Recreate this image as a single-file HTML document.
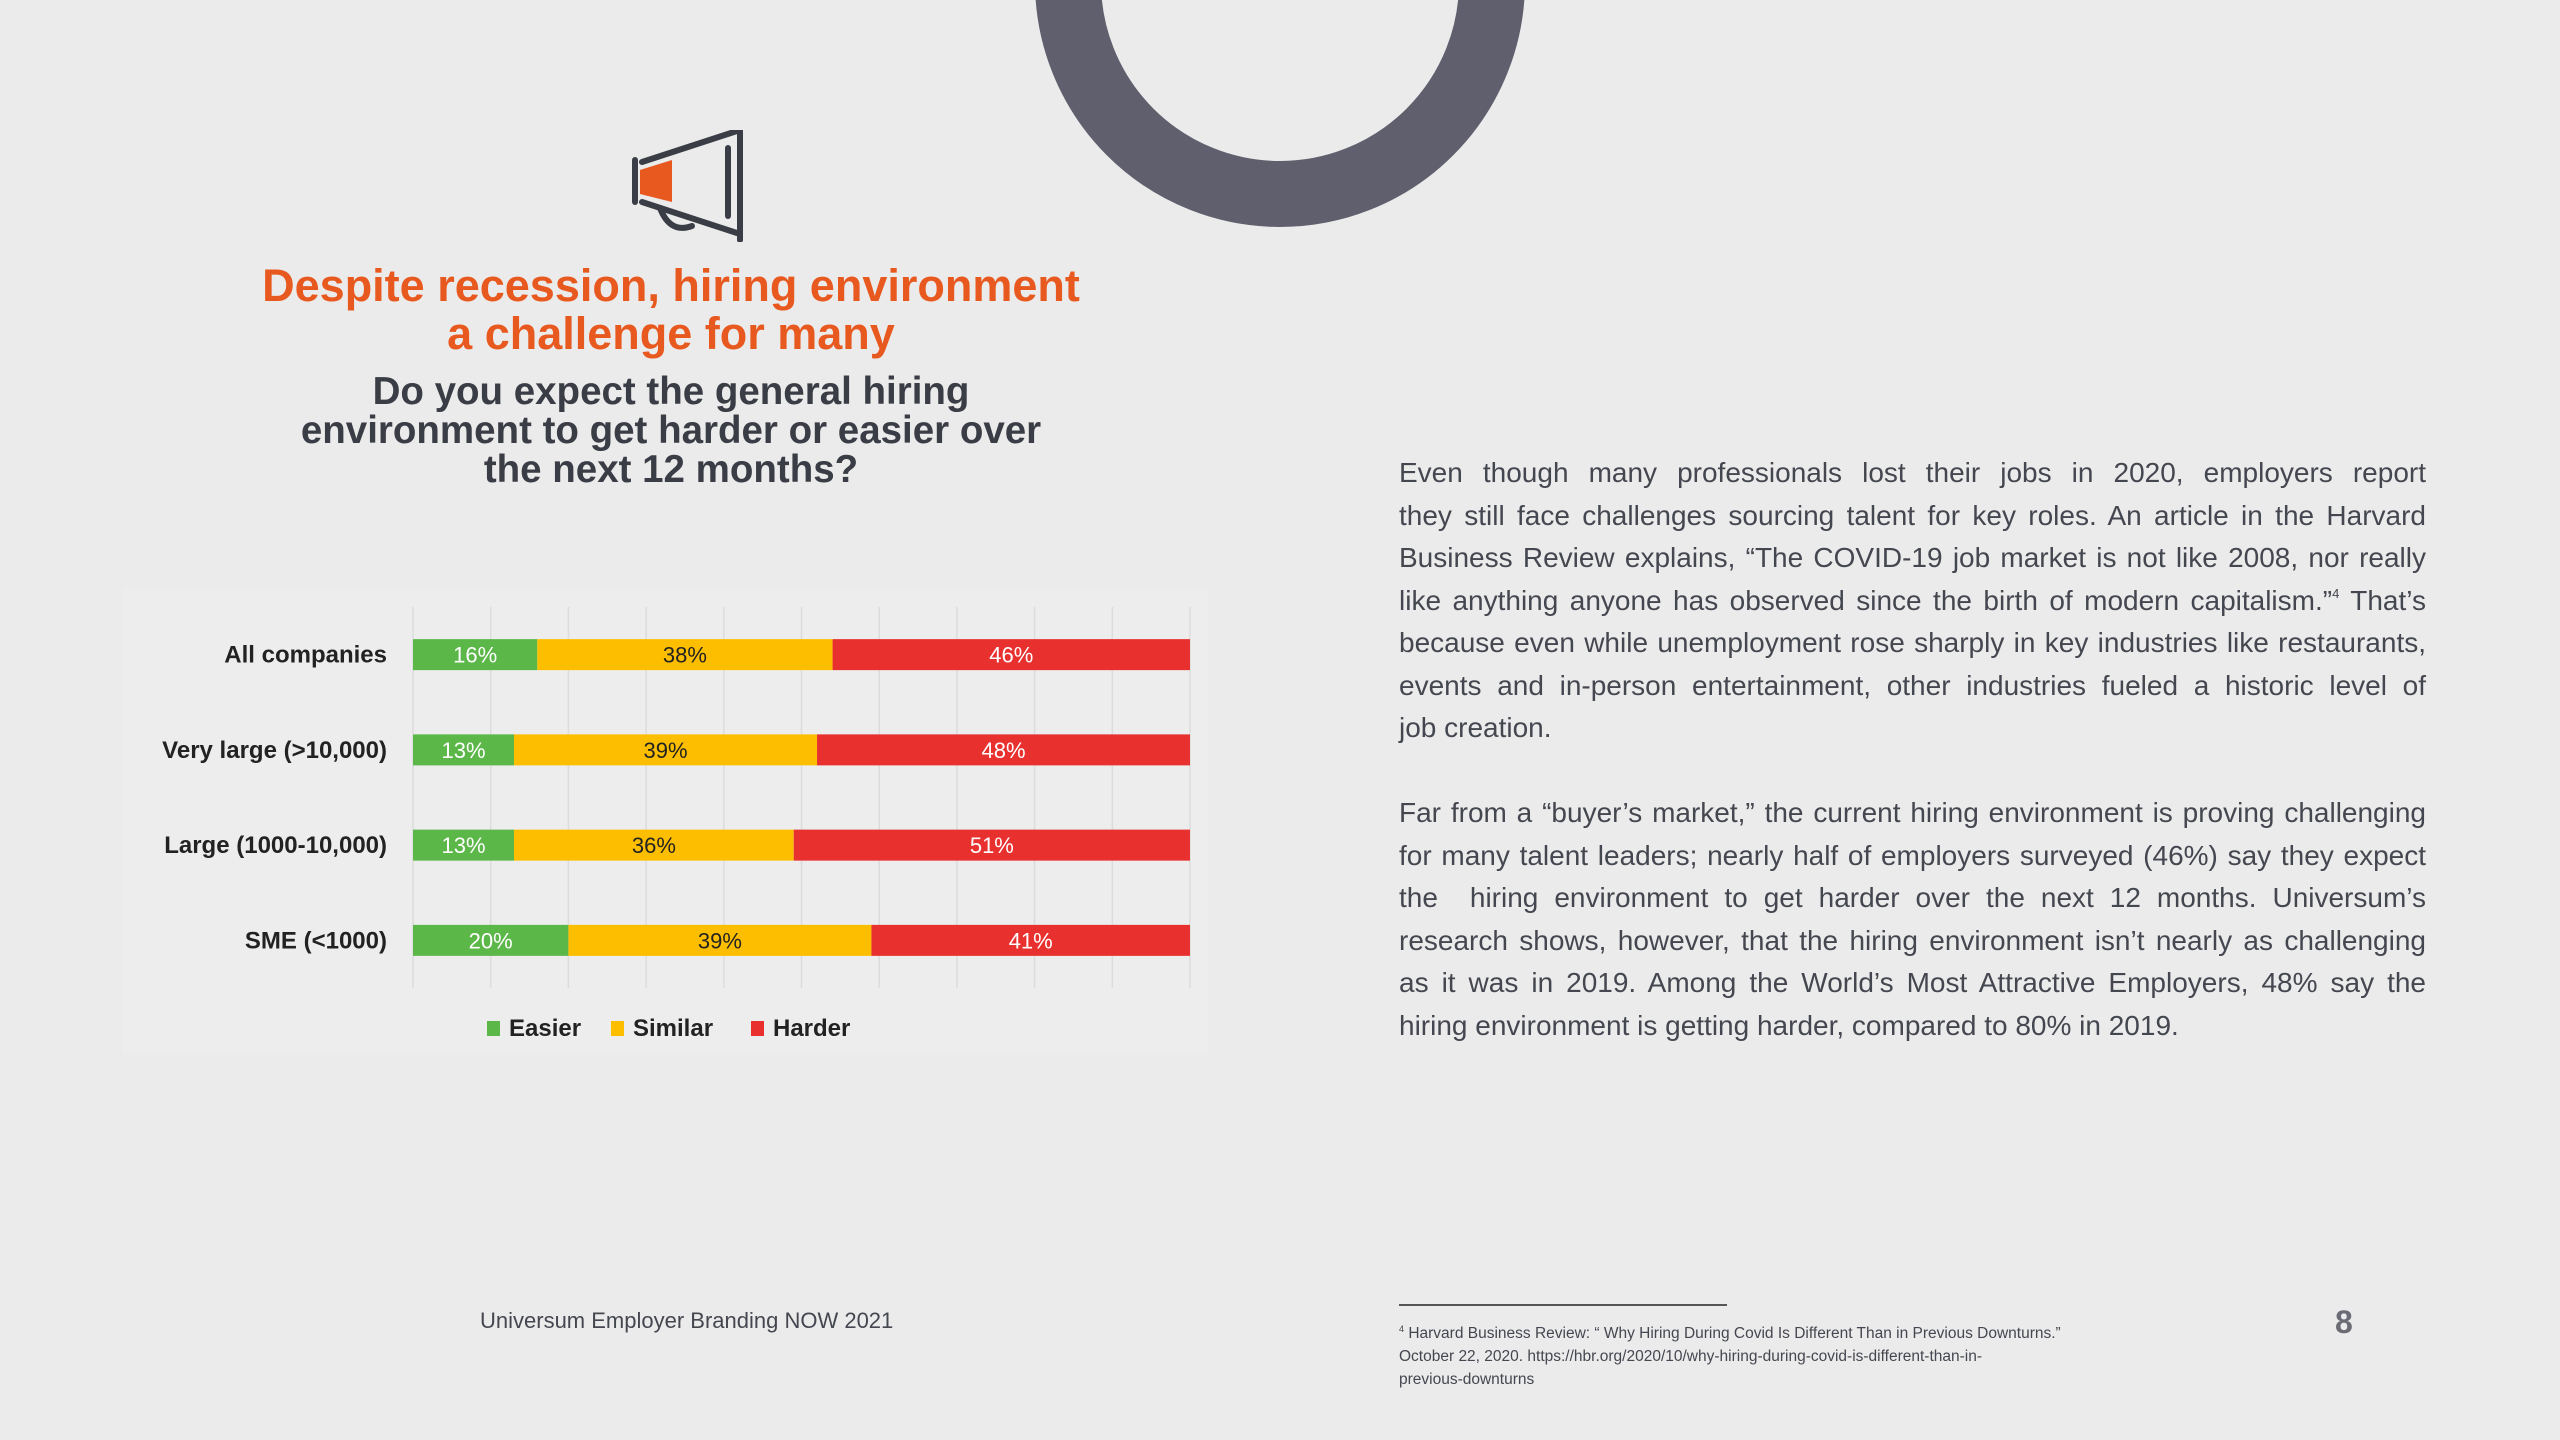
<!DOCTYPE html>
<html><head><meta charset="utf-8">
<style>
html,body{margin:0;padding:0}
body{width:2560px;height:1440px;background:#ebebeb;position:relative;overflow:hidden;font-family:"Liberation Sans",sans-serif}
.abs{position:absolute}
.title{left:171px;width:1000px;text-align:center;color:#e8591f;font-weight:bold;font-size:45px;line-height:48px;top:262px}
.sub{left:121px;width:1100px;text-align:center;color:#3a3d45;font-weight:bold;font-size:38.5px;line-height:39px;top:372px}
.para{left:1399px;width:1027px;color:#454750;font-family:"Liberation Sans",sans-serif;font-size:28px;line-height:42.5px;top:452px}
.para div{text-align:justify;text-align-last:justify;white-space:nowrap;height:42.5px}
.para div.last{text-align-last:left}
.para sup{font-size:13px;line-height:0;vertical-align:12px}
</style></head><body>
<svg class="abs" style="left:0;top:0" width="2560" height="1440">
<circle cx="1280" cy="-18" r="212" fill="none" stroke="#5f5f6d" stroke-width="66"/>
</svg>
<svg class="abs" style="left:630px;top:130px" width="120" height="112" viewBox="0 0 120 112">
<g fill="none" stroke="#3a3d45" stroke-width="6" stroke-linecap="round">
<line x1="5" y1="30" x2="5" y2="72"/>
<line x1="12" y1="32" x2="110" y2="0"/>
<line x1="12" y1="72" x2="110" y2="104"/>
<line x1="110" y1="-4" x2="110" y2="110"/>
<line x1="98" y1="18" x2="98" y2="86"/>
<path d="M30 78 Q40 104 62 96"/>
</g>
<polygon points="10,40 42,30 42,72 10,64" fill="#e8591f"/>
</svg>
<div class="abs title">Despite recession, hiring environment<br>a challenge for many</div>
<div class="abs sub">Do you expect the general hiring<br>environment to get harder or easier over<br>the next 12 months?</div>

<svg id="chart" class="abs" style="left:0;top:0" width="2560" height="1440"></svg>

<div class="abs para">
<div>Even though many professionals lost their jobs in 2020, employers report</div>
<div>they still face challenges sourcing talent for key roles. An article in the Harvard</div>
<div>Business Review explains, “The COVID-19 job market is not like 2008, nor really</div>
<div>like anything anyone has observed since the birth of modern capitalism.”<sup>4</sup> That’s</div>
<div>because even while unemployment rose sharply in key industries like restaurants,</div>
<div>events and in-person entertainment, other industries fueled a historic level of</div>
<div class="last">job creation.</div>
<div class="last">&nbsp;</div>
<div>Far from a “buyer’s market,” the current hiring environment is proving challenging</div>
<div>for many talent leaders; nearly half of employers surveyed (46%) say they expect</div>
<div>the &nbsp;hiring environment to get harder over the next 12 months. Universum’s</div>
<div>research shows, however, that the hiring environment isn’t nearly as challenging</div>
<div>as it was in 2019. Among the World’s Most Attractive Employers, 48% say the</div>
<div class="last">hiring environment is getting harder, compared to 80% in 2019.</div>
</div>

<div class="abs" style="left:480px;top:1308px;font-size:22px;color:#454750">Universum Employer Branding NOW 2021</div>
<div class="abs" style="left:1399px;top:1304px;width:328px;height:2px;background:#555"></div>
<div class="abs" style="left:1399px;top:1318px;font-size:15.5px;line-height:23px;color:#454750;width:720px"><sup style="font-size:9px">4</sup> Harvard Business Review: “ Why Hiring During Covid Is Different Than in Previous Downturns.”<br>October 22, 2020. https://hbr.org/2020/10/why-hiring-during-covid-is-different-than-in-<br>previous-downturns</div>
<div class="abs" style="left:2335px;top:1304px;font-size:32px;font-weight:bold;color:#6b6b75">8</div>

<script>
const categories = ["All companies","Very large (>10,000)","Large (1000-10,000)","SME (<1000)"];
const easier = [16,13,13,20];
const similar = [38,39,36,39];
const harder = [46,48,51,41];
const seriesNames = ["Easier","Similar","Harder"];
const colors = ["#5cb749","#fdbe00","#e8302f"];
const textColors = ["#ffffff","#222222","#ffffff"];
const svg = document.getElementById('chart');
const NS = 'http://www.w3.org/2000/svg';
const x0 = 413, x1 = 1190, top0 = 607, bot0 = 988;
const xs = v => x0 + (x1 - x0) * v / 100;
const band = (bot0 - top0) / categories.length;
const ys = i => top0 + band * (i + 0.5);
const barH = 31;
function el(t, a){const e=document.createElementNS(NS,t);for(const k in a)e.setAttribute(k,a[k]);svg.appendChild(e);return e;}
const panel = el('rect',{x:122,y:588,width:1086,height:465,fill:'#ededed'});


for(let g=0; g<=10; g++){
  const l = el('line',{x1:xs(g*10),x2:xs(g*10),y1:top0,y2:bot0,stroke:'#dcdcdc','stroke-width':1.5});
  
  
}
const series = [easier, similar, harder];
categories.forEach((c,i)=>{
  const y = ys(i);
  const lab = el('text',{x:387,y:y+8,'text-anchor':'end','font-size':24,'font-weight':'bold',fill:'#222','font-family':'"Liberation Sans",sans-serif'});
  lab.textContent = c;
  
  
  let acc = 0;
  series.forEach((s,k)=>{
    const v = s[i];
    const r = el('rect',{x:xs(acc),y:y-barH/2,width:xs(acc+v)-xs(acc),height:barH,fill:colors[k]});
    
    
    const t = el('text',{x:(xs(acc)+xs(acc+v))/2,y:y+8,'text-anchor':'middle','font-size':22,fill:textColors[k],'font-family':'"Liberation Sans",sans-serif'});
    t.textContent = v + '%';
    
    
    acc += v;
  });
});
const legX = [487, 611, 751];
seriesNames.forEach((n,k)=>{
  const r = el('rect',{x:legX[k],y:1021,width:13,height:15,fill:colors[k]});
  
  
  const t = el('text',{x:legX[k]+22,y:1036,'font-size':24,'font-weight':'bold',fill:'#222','font-family':'"Liberation Sans",sans-serif'});
  t.textContent = n;
  
  
});
</script>
</body></html>
